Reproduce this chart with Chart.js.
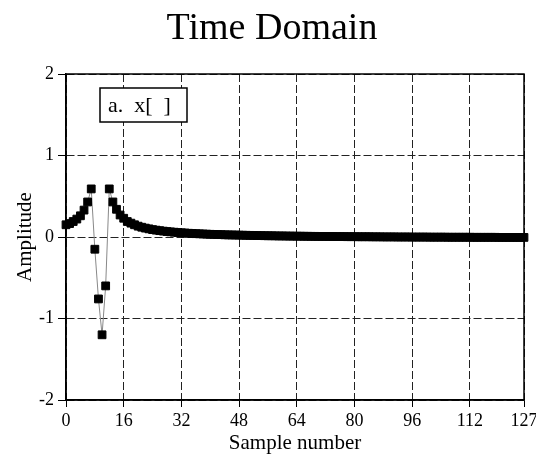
<!DOCTYPE html>
<html>
<head>
<meta charset="utf-8">
<script src="https://cdn.jsdelivr.net/npm/chart.js@4"></script>
<style>
  html, body { margin: 0; padding: 0; background: #fff; }
  #wrap { width: 536px; height: 456px; }
</style>
</head>
<body>
<div id="wrap"><canvas id="myChart1" width="536" height="456"></canvas></div>
<script>
// values
const amplitude = [
  0.15, 0.165, 0.19, 0.22, 0.26, 0.33, 0.43, 0.59, -0.15, -0.76, -1.2, -0.6, 0.59, 0.43,
  0.34, 0.27, 0.23, 0.19, 0.17, 0.15,
  0.133, 0.12, 0.109, 0.1, 0.091, 0.084, 0.078, 0.072, 0.067, 0.063,
  0.059, 0.055, 0.052, 0.049, 0.046, 0.044, 0.041, 0.039, 0.037, 0.035,
  0.033, 0.032, 0.03, 0.029, 0.027, 0.026, 0.025, 0.024, 0.023, 0.022,
  0.021, 0.02, 0.019, 0.018, 0.017, 0.016, 0.015, 0.015, 0.014, 0.013,
  0.013, 0.012, 0.011, 0.011, 0.01, 0.01, 0.009, 0.009, 0.008, 0.008,
  0.007, 0.007, 0.007, 0.006, 0.006, 0.005, 0.005, 0.005, 0.004, 0.004,
  0.004, 0.003, 0.003, 0.003, 0.003, 0.002, 0.002, 0.002, 0.001, 0.001,
  0.001, 0.001, 0, 0, 0, 0, -0.001, -0.001, -0.001, -0.001,
  -0.001, -0.002, -0.002, -0.002, -0.002, -0.002, -0.003, -0.003, -0.003, -0.003,
  -0.003, -0.003, -0.003, -0.004, -0.004, -0.004, -0.004, -0.004, -0.004, -0.004,
  -0.005, -0.005, -0.005, -0.005, -0.005, -0.005, -0.005, -0.005
];
const samples = amplitude.map((v, i) => i);
const xTicks = [0, 16, 32, 48, 64, 80, 96, 112, 127];
const yTicks = [-2, -1, 0, 1, 2];
const labelText = "a.  x[  ]";

const serif = "'Liberation Serif', 'Times New Roman', serif";

// frame + the little "a. x[ ]" box
const framePlugin = {
  id: 'frame',
  afterDraw(chart) {
    const { ctx, chartArea: a } = chart;
    ctx.save();
    ctx.strokeStyle = '#000';
    ctx.lineWidth = 1.5;
    ctx.strokeRect(a.left, a.top, a.right - a.left, a.bottom - a.top);

    const bx = a.left + 34, by = a.top + 14, bw = 87, bh = 34;
    ctx.fillStyle = '#fff';
    ctx.fillRect(bx, by, bw, bh);
    ctx.lineWidth = 1.5;
    ctx.strokeRect(bx, by, bw, bh);
    ctx.fillStyle = '#000';
    ctx.font = '22px ' + serif;
    ctx.textBaseline = 'middle';
    ctx.fillText(labelText, bx + 8, by + bh / 2 + 1);
    ctx.restore();
  }
};

let ctx = document.getElementById('myChart1').getContext('2d');
let myChart1 = new Chart(ctx, {
  type: 'line',
  data: {
    datasets: [{
      data: samples.map(i => ({ x: i, y: amplitude[i] })),
      borderColor: '#888',
      borderWidth: 1,
      pointStyle: 'rect',
      pointRadius: 5.5,
      pointBackgroundColor: '#000',
      pointBorderColor: '#000',
      pointBorderWidth: 1,
      tension: 0,
      fill: false,
      clip: 10
    }]
  },
  options: {
    responsive: false,
    animation: false,
    layout: { padding: { left: 20, right: 12, top: 0, bottom: 0 } },
    plugins: {
      legend: { display: false },
      tooltip: { enabled: false },
      title: {
        display: true,
        text: 'Time Domain',
        color: '#000',
        font: { family: serif, size: 38, weight: 'normal' },
        padding: { top: 6, bottom: 22.4 }
      }
    },
    scales: {
      x: {
        type: 'linear',
        min: 0,
        max: 127,
        afterBuildTicks: s => { s.ticks = xTicks.map(v => ({ value: v })); },
        afterFit: s => { s.height = 56; s.paddingLeft = 0; s.paddingRight = 0; },
        ticks: {
          color: '#000',
          font: { family: serif, size: 18 },
          padding: 3,
          maxRotation: 0,
          autoSkip: false
        },
        grid: { color: '#222', lineWidth: 1, tickLength: 7, tickColor: '#000' },
        border: { display: true, color: '#000', width: 1.5, dash: [8, 3] },
        title: {
          display: true,
          text: 'Sample number',
          color: '#000',
          font: { family: serif, size: 21 },
          padding: { top: 0, bottom: 0 }
        }
      },
      y: {
        min: -2,
        max: 2,
        afterBuildTicks: s => { s.ticks = yTicks.map(v => ({ value: v })); },
        afterFit: s => { s.width = 46; },
        ticks: {
          color: '#000',
          font: { family: serif, size: 18 },
          padding: 4
        },
        grid: { color: '#222', lineWidth: 1, tickLength: 8, tickColor: '#000' },
        border: { display: true, color: '#000', width: 1.5, dash: [8, 3] },
        title: {
          display: true,
          text: 'Amplitude',
          color: '#000',
          font: { family: serif, size: 21 },
          padding: { top: -7, bottom: 0 }
        }
      }
    }
  },
  plugins: [framePlugin]
});
</script>
</body>
</html>
